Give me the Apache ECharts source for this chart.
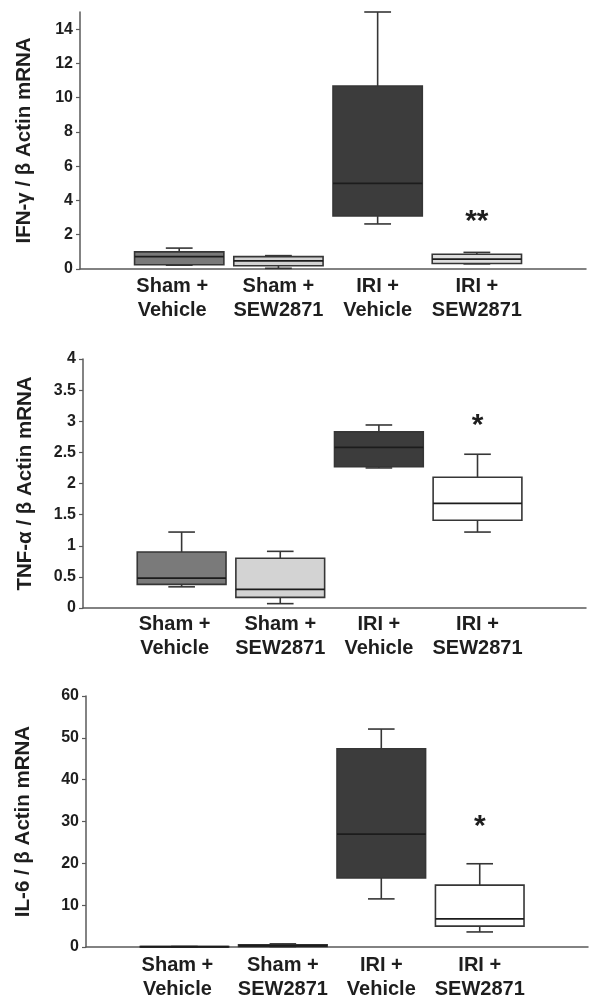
<!DOCTYPE html>
<html>
<head>
<meta charset="utf-8">
<script src="https://cdn.jsdelivr.net/npm/echarts@6/dist/echarts.min.js"></script>
<style>html,body{margin:0;padding:0;background:#fff}#c{width:590px;height:1003px}</style>
</head>
<body>
<div id="c"></div>
<script>
// ---- data ----
const categories = ['Sham +\nVehicle', 'Sham +\nSEW2871', 'IRI +\nVehicle', 'IRI +\nSEW2871'];
const catPos = [1, 2, 3, 4];
// each box: [min, Q1, median, Q3, max]
const ifnBoxes = [
  [0.22, 0.25, 0.72, 1.00, 1.22],
  [0.04, 0.19, 0.47, 0.72, 0.78],
  [2.63, 3.09, 5.00, 10.68, 15.00],
  [0.30, 0.32, 0.58, 0.86, 0.97]
];
const tnfBoxes = [
  [0.34, 0.38, 0.48, 0.90, 1.22],
  [0.07, 0.17, 0.30, 0.80, 0.91],
  [2.25, 2.27, 2.58, 2.83, 2.94],
  [1.22, 1.41, 1.68, 2.10, 2.47]
];
const il6Boxes = [
  [0.02, 0.04, 0.06, 0.10, 0.12],
  [0.10, 0.15, 0.30, 0.55, 0.75],
  [11.5, 16.5, 27.0, 47.4, 52.1],
  [3.6, 5.0, 6.7, 14.8, 19.9]
];
const ifnTicks = [0, 2, 4, 6, 8, 10, 12, 14];
const tnfTicks = [0, 0.5, 1, 1.5, 2, 2.5, 3, 3.5, 4];
const il6Ticks = [0, 10, 20, 30, 40, 50, 60];
const ifnSigLabels = ['', '', '', '**'];
const ifnSigY = [null, null, null, 3.0];
const tnfSigLabels = ['', '', '', '*'];
const tnfSigY = [null, null, null, 3.0];
const il6SigLabels = ['', '', '', '*'];
const il6SigY = [null, null, null, 29.7];
const yNames = ['IFN-γ / β Actin mRNA', 'TNF-α / β Actin mRNA', 'IL-6 / β Actin mRNA'];

// ---- styles ----
const FONT = '"Liberation Sans", Arial, Helvetica, sans-serif';
const TXT = '#1e1e1e';
const AXIS = '#5a5a5a';
const fillsA = ['#7a7a7a', '#d3d3d3', '#3c3c3c', '#dedede'];
const fillsB = ['#7a7a7a', '#d3d3d3', '#3c3c3c', '#ffffff'];

function boxRenderer(fills) {
  return function (params, api) {
    const x = api.value(0);
    const p = [1, 2, 3, 4, 5].map(d => api.coord([x, api.value(d)]));
    const cx = p[0][0];
    const band = api.size([1, 0])[0];
    const bw = band * 0.9, cw = band * 0.27;
    const yMin = p[0][1], yQ1 = p[1][1], yMed = p[2][1], yQ3 = p[3][1], yMax = p[4][1];
    const st = { stroke: '#363636', lineWidth: 1.6 };
    return {
      type: 'group',
      children: [
        { type: 'line', shape: { x1: cx, y1: yQ3, x2: cx, y2: yMax }, style: st },
        { type: 'line', shape: { x1: cx, y1: yQ1, x2: cx, y2: yMin }, style: st },
        { type: 'line', shape: { x1: cx - cw / 2, y1: yMax, x2: cx + cw / 2, y2: yMax }, style: st },
        { type: 'line', shape: { x1: cx - cw / 2, y1: yMin, x2: cx + cw / 2, y2: yMin }, style: st },
        { type: 'rect', shape: { x: cx - bw / 2, y: yQ3, width: bw, height: yQ1 - yQ3 },
          style: { fill: fills[params.dataIndex], stroke: '#363636', lineWidth: 1.6 } },
        { type: 'line', shape: { x1: cx - bw / 2, y1: yMed, x2: cx + bw / 2, y2: yMed },
          style: { stroke: '#1c1c1c', lineWidth: 1.8 } }
      ]
    };
  };
}

function sigRenderer(labels) {
  return function (params, api) {
    const pt = api.coord([api.value(0), api.value(1)]);
    return {
      type: 'text', x: pt[0], y: pt[1] + 4,
      style: { text: labels[api.value(2)], font: 'bold 30px ' + FONT, fill: TXT, align: 'center', verticalAlign: 'middle' }
    };
  };
}

function catLabel(v) {
  const idx = Math.round(v) - 1;
  const txt = categories[idx];
  if (!txt) return '';
  const style = idx === 0 ? 'f' : 'n';
  return txt.split('\n').map(s => '{' + style + '|' + s + '}').join('\n');
}

const grids = [
  { left: 80, right: 4, top: 12, height: 257 },
  { left: 83, right: 4, top: 359, height: 249 },
  { left: 86, right: 2, top: 696, height: 251 }
];
const panels = [
  { boxes: ifnBoxes, ticks: ifnTicks, max: 15, fills: fillsA, sig: ifnSigLabels, sigY: ifnSigY, labelMargin: 5, nameGap: 45 },
  { boxes: tnfBoxes, ticks: tnfTicks, max: 4, fills: fillsB, sig: tnfSigLabels, sigY: tnfSigY, labelMargin: 4, nameGap: 47 },
  { boxes: il6Boxes, ticks: il6Ticks, max: 60, fills: fillsB, sig: il6SigLabels, sigY: il6SigY, labelMargin: 6, nameGap: 52 }
];

const labelText = { color: TXT, fontFamily: FONT, fontWeight: 'bold', fontSize: 20, lineHeight: 24 };

const option = { animation: false, backgroundColor: '#fff', grid: grids, xAxis: [], yAxis: [], series: [] };

panels.forEach((pn, i) => {
  option.xAxis.push({
    type: 'value', gridIndex: i, min: 0, max: 5.1,
    axisLine: { show: true, lineStyle: { color: AXIS, width: 1.5 } },
    axisTick: { show: false },
    splitLine: { show: false },
    axisLabel: Object.assign({
      customValues: catPos,
      formatter: catLabel,
      margin: pn.labelMargin,
      rich: {
        n: Object.assign({}, labelText),
        f: Object.assign({ padding: [0, 14, 0, 0] }, labelText)
      }
    }, labelText)
  });
  option.yAxis.push({
    type: 'value', gridIndex: i, min: 0, max: pn.max,
    name: yNames[i], nameLocation: 'middle', nameGap: pn.nameGap, nameMoveOverlap: false,
    nameTextStyle: { color: TXT, fontFamily: FONT, fontWeight: 'bold', fontSize: 20.5 },
    axisLine: { show: true, lineStyle: { color: AXIS, width: 1.5 } },
    axisTick: { show: true, length: 4, customValues: pn.ticks, lineStyle: { color: AXIS, width: 1.2 } },
    splitLine: { show: false },
    axisLabel: {
      customValues: pn.ticks, margin: 7,
      color: TXT, fontFamily: FONT, fontWeight: 'bold', fontSize: 16
    }
  });
  option.series.push({
    type: 'custom', xAxisIndex: i, yAxisIndex: i, clip: false,
    renderItem: boxRenderer(pn.fills),
    encode: { x: 0, y: [1, 2, 3, 4, 5] },
    data: pn.boxes.map((b, k) => [catPos[k]].concat(b))
  });
  const sigData = pn.sigY.map((y, k) => (y == null ? null : [catPos[k], y, k])).filter(d => d);
  option.series.push({
    type: 'custom', xAxisIndex: i, yAxisIndex: i, clip: false,
    renderItem: sigRenderer(pn.sig),
    encode: { x: 0, y: 1 },
    data: sigData
  });
});

const chart = echarts.init(document.getElementById('c'), null, { renderer: 'canvas' });
chart.setOption(option);
</script>
</body>
</html>
